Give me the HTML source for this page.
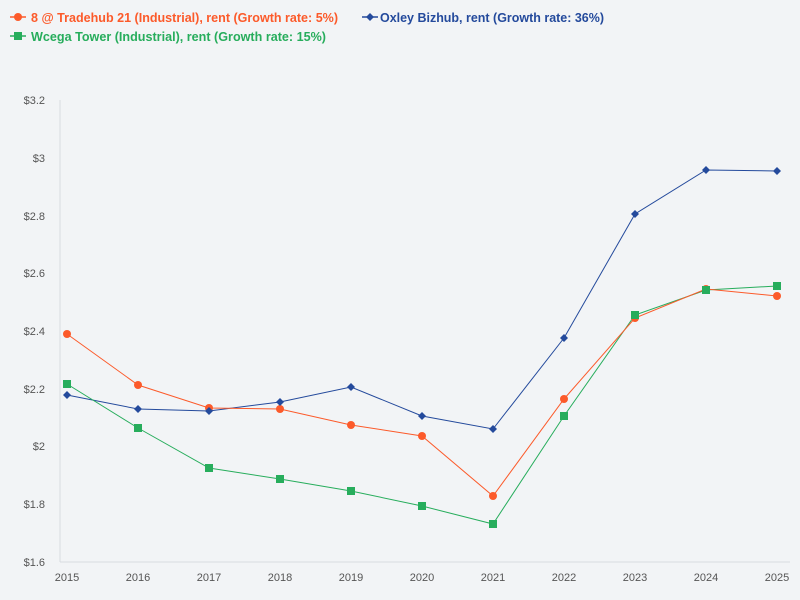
<!DOCTYPE html>
<html><head><style>body{margin:0;background:#f2f4f6}svg{display:block}text{font-family:"Liberation Sans",sans-serif}</style></head><body>
<svg width="800" height="600" viewBox="0 0 800 600">
<rect width="800" height="600" fill="#f2f4f6"/>
<g font-size="12.5" font-weight="bold">
<line x1="10" y1="17" x2="26" y2="17" stroke="#fc5a2a" stroke-width="1.5"/><circle cx="18" cy="17" r="4" fill="#fc5a2a"/>
<text x="31" y="22" fill="#fc5a2a" textLength="307" lengthAdjust="spacingAndGlyphs">8 @ Tradehub 21 (Industrial), rent (Growth rate: 5%)</text>
<line x1="362" y1="17" x2="378" y2="17" stroke="#244a9c" stroke-width="1.5"/><path d="M370 13 L374 17 L370 21 L366 17Z" fill="#244a9c"/>
<text x="380" y="22" fill="#244a9c" textLength="224" lengthAdjust="spacingAndGlyphs">Oxley Bizhub, rent (Growth rate: 36%)</text>
<line x1="10" y1="36" x2="26" y2="36" stroke="#27ad5c" stroke-width="1.5"/><rect x="14" y="32" width="8" height="8" fill="#27ad5c"/>
<text x="31" y="41" fill="#27ad5c" textLength="295" lengthAdjust="spacingAndGlyphs">Wcega Tower (Industrial), rent (Growth rate: 15%)</text>
</g>
<line x1="60" y1="100" x2="60" y2="562" stroke="#d8dbe0"/>
<line x1="60" y1="562" x2="790" y2="562" stroke="#d8dbe0"/>
<g font-size="11" fill="#555" text-anchor="end">
<text x="45" y="104">$3.2</text><text x="45" y="162">$3</text><text x="45" y="220">$2.8</text><text x="45" y="277">$2.6</text><text x="45" y="335">$2.4</text><text x="45" y="393">$2.2</text><text x="45" y="450">$2</text><text x="45" y="508">$1.8</text><text x="45" y="566">$1.6</text>
</g>
<g font-size="11" fill="#555" text-anchor="middle">
<text x="67" y="581">2015</text><text x="138" y="581">2016</text><text x="209" y="581">2017</text><text x="280" y="581">2018</text><text x="351" y="581">2019</text><text x="422" y="581">2020</text><text x="493" y="581">2021</text><text x="564" y="581">2022</text><text x="635" y="581">2023</text><text x="706" y="581">2024</text><text x="777" y="581">2025</text>
</g>
<polyline fill="none" stroke="#244a9c" stroke-width="1" points="67,395 138,409 209,411 280,402 351,387 422,416 493,429 564,338 635,214 706,170 777,171"/>
<polyline fill="none" stroke="#27ad5c" stroke-width="1" points="67,384 138,428 209,468 280,479 351,491 422,506 493,524 564,416 635,315 706,290 777,286"/>
<polyline fill="none" stroke="#fc5a2a" stroke-width="1" points="67,334 138,385 209,408 280,409 351,425 422,436 493,496 564,399 635,318 706,289 777,296"/>
<g fill="#fc5a2a">
<circle cx="67" cy="334" r="4"/><circle cx="138" cy="385" r="4"/><circle cx="209" cy="408" r="4"/><circle cx="280" cy="409" r="4"/><circle cx="351" cy="425" r="4"/><circle cx="422" cy="436" r="4"/><circle cx="493" cy="496" r="4"/><circle cx="564" cy="399" r="4"/><circle cx="635" cy="318" r="4"/><circle cx="706" cy="289" r="4"/><circle cx="777" cy="296" r="4"/>
</g>
<g fill="#27ad5c">
<rect x="63" y="380" width="8" height="8"/><rect x="134" y="424" width="8" height="8"/><rect x="205" y="464" width="8" height="8"/><rect x="276" y="475" width="8" height="8"/><rect x="347" y="487" width="8" height="8"/><rect x="418" y="502" width="8" height="8"/><rect x="489" y="520" width="8" height="8"/><rect x="560" y="412" width="8" height="8"/><rect x="631" y="311" width="8" height="8"/><rect x="702" y="286" width="8" height="8"/><rect x="773" y="282" width="8" height="8"/>
</g>
<g fill="#244a9c">
<path d="M67 391l4 4-4 4-4-4z"/><path d="M138 405l4 4-4 4-4-4z"/><path d="M209 407l4 4-4 4-4-4z"/><path d="M280 398l4 4-4 4-4-4z"/><path d="M351 383l4 4-4 4-4-4z"/><path d="M422 412l4 4-4 4-4-4z"/><path d="M493 425l4 4-4 4-4-4z"/><path d="M564 334l4 4-4 4-4-4z"/><path d="M635 210l4 4-4 4-4-4z"/><path d="M706 166l4 4-4 4-4-4z"/><path d="M777 167l4 4-4 4-4-4z"/>
</g>
</svg>
</body></html>
